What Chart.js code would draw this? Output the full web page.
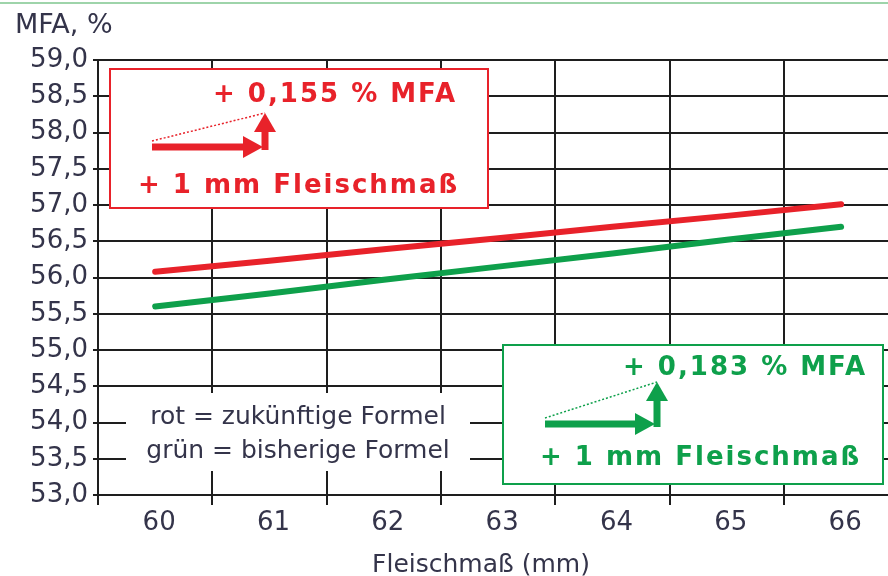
<!DOCTYPE html>
<html>
<head>
<meta charset="utf-8">
<script src="https://cdn.jsdelivr.net/npm/chart.js@4"></script>
<style>
  body { margin: 0; background: #fff; }
  canvas { display: block; }
</style>
</head>
<body>
<canvas id="mfaChart" width="888" height="576"></canvas>
<script>
// Fleischmaß (mm) on the x axis
const fleischmass = [60, 61, 62, 63, 64, 65, 66];

// MFA %
const rotFormel = [56.08, 56.23, 56.39, 56.54, 56.70, 56.85, 57.01];   // zukünftige Formel
const gruenFormel = [55.60, 55.78, 55.97, 56.15, 56.33, 56.52, 56.70]; // bisherige Formel

const yMin = 53, yMax = 59, yStep = 0.5;

const RED = '#e8222a';
const GREEN = '#0ea04b';
const TEXT = '#34344a';
const GRID = '#1e1e1e';
const FONT = '"DejaVu Sans", sans-serif';

function commaNum(v) {
    return v.toFixed(1).replace('.', ',');
}

// small "+1 mm / +x % MFA" arrow pair
function drawDeltaArrow(ctx, x0, y0, len, rise, color) {
    const xe = x0 + len;
    ctx.save();
    ctx.fillStyle = color;
    ctx.strokeStyle = color;
    // dotted slope
    ctx.lineWidth = 1.5;
    ctx.setLineDash([2, 2]);
    ctx.beginPath();
    ctx.moveTo(x0, y0 - 6);
    ctx.lineTo(xe, y0 - rise);
    ctx.stroke();
    ctx.setLineDash([]);
    // horizontal shaft + head
    ctx.fillRect(x0, y0 - 3.5, len - 20, 7);
    ctx.beginPath();
    ctx.moveTo(xe - 22, y0 - 11);
    ctx.lineTo(xe - 2, y0);
    ctx.lineTo(xe - 22, y0 + 11);
    ctx.closePath();
    ctx.fill();
    // vertical shaft + head
    ctx.fillRect(xe - 3.5, y0 - rise + 19, 7, rise - 19 + 3);
    ctx.beginPath();
    ctx.moveTo(xe - 11, y0 - rise + 19);
    ctx.lineTo(xe, y0 - rise);
    ctx.lineTo(xe + 11, y0 - rise + 19);
    ctx.closePath();
    ctx.fill();
    ctx.restore();
}

function drawNoteBox(ctx, box, color, topText, bottomText) {
    ctx.save();
    ctx.fillStyle = '#fff';
    ctx.fillRect(box.x, box.y, box.w, box.h);
    ctx.strokeStyle = color;
    ctx.lineWidth = 2;
    ctx.strokeRect(box.x, box.y, box.w, box.h);
    ctx.fillStyle = color;
    ctx.font = 'bold 26px ' + FONT;
    ctx.letterSpacing = '2px';
    ctx.textBaseline = 'alphabetic';
    ctx.textAlign = 'left';
    ctx.fillText(topText, box.tx1, box.ty1);
    ctx.fillText(bottomText, box.tx2, box.ty2);
    ctx.restore();
}

const decorations = {
    id: 'decorations',
    beforeDraw(chart) {
        const ctx = chart.ctx;
        ctx.save();
        ctx.fillStyle = '#fff';
        ctx.fillRect(0, 0, chart.width, chart.height);
        ctx.strokeStyle = '#9ed4aa';
        ctx.lineWidth = 2;
        ctx.beginPath();
        ctx.moveTo(0, 3);
        ctx.lineTo(chart.width, 3);
        ctx.stroke();
        ctx.fillStyle = TEXT;
        ctx.font = '27px ' + FONT;
        ctx.textBaseline = 'alphabetic';
        ctx.fillText('MFA, %', 15, 33);
        ctx.restore();
    },
    beforeDatasetsDraw(chart) {
        const ctx = chart.ctx;
        // legend text on white
        ctx.save();
        ctx.fillStyle = '#fff';
        ctx.fillRect(126, 393, 344, 78);
        ctx.fillStyle = TEXT;
        ctx.font = '25px ' + FONT;
        ctx.textAlign = 'center';
        ctx.textBaseline = 'alphabetic';
        ctx.fillText('rot = zukünftige Formel', 298, 424);
        ctx.fillText('grün = bisherige Formel', 298, 458);
        // axis title
        ctx.fillText('Fleischmaß (mm)', 481, 572);
        ctx.restore();

        drawNoteBox(ctx, {x: 110, y: 69, w: 378, h: 139, tx1: 213, ty1: 102, tx2: 138, ty2: 193},
            RED, '+ 0,155 % MFA', '+ 1 mm Fleischmaß');
        drawDeltaArrow(ctx, 152, 147, 113, 34, RED);

        drawNoteBox(ctx, {x: 503, y: 345, w: 380, h: 139, tx1: 623, ty1: 375, tx2: 540, ty2: 465},
            GREEN, '+ 0,183 % MFA', '+ 1 mm Fleischmaß');
        drawDeltaArrow(ctx, 545, 424, 112, 42, GREEN);
    }
};

const chart = new Chart(document.getElementById('mfaChart'), {
    type: 'line',
    data: {
        datasets: [
            {
                label: 'rot = zukünftige Formel',
                data: fleischmass.map((x, i) => ({x: x, y: rotFormel[i]})),
                borderColor: RED,
                borderWidth: 6,
                borderCapStyle: 'round',
                pointRadius: 0
            },
            {
                label: 'grün = bisherige Formel',
                data: fleischmass.map((x, i) => ({x: x, y: gruenFormel[i]})),
                borderColor: GREEN,
                borderWidth: 6,
                borderCapStyle: 'round',
                pointRadius: 0
            }
        ]
    },
    options: {
        responsive: false,
        animation: false,
        layout: { padding: { top: 60, right: 0, left: 0, bottom: 0 } },
        plugins: {
            legend: { display: false },
            tooltip: { enabled: false }
        },
        scales: {
            x: {
                type: 'linear',
                min: fleischmass[0] - 0.5,
                max: 66.41,
                afterBuildTicks: (scale) => {
                    const ticks = [];
                    fleischmass.forEach(v => {
                        ticks.push({value: v - 0.5});
                        ticks.push({value: v});
                    });
                    scale.ticks = ticks;
                },
                afterFit: (scale) => { scale.height = 81; },
                grid: {
                    color: (c) => (c.tick && Number.isInteger(c.tick.value)) ? 'rgba(0,0,0,0)' : GRID,
                    lineWidth: 2,
                    tickLength: 10
                },
                border: { color: GRID, width: 2 },
                ticks: {
                    autoSkip: false,
                    maxRotation: 0,
                    padding: 3,
                    labelOffset: 4,
                    color: TEXT,
                    font: { family: FONT, size: 26 },
                    callback: (v) => Number.isInteger(v) ? String(v) : ''
                }
            },
            y: {
                min: yMin,
                max: yMax,
                afterFit: (scale) => { scale.width = 98; },
                grid: { color: GRID, lineWidth: 2, tickLength: 5 },
                border: { color: GRID, width: 2 },
                ticks: {
                    stepSize: yStep,
                    padding: 5,
                    color: TEXT,
                    font: { family: FONT, size: 26 },
                    callback: (v) => commaNum(v)
                }
            }
        }
    },
    plugins: [decorations]
});
</script>
</body>
</html>
